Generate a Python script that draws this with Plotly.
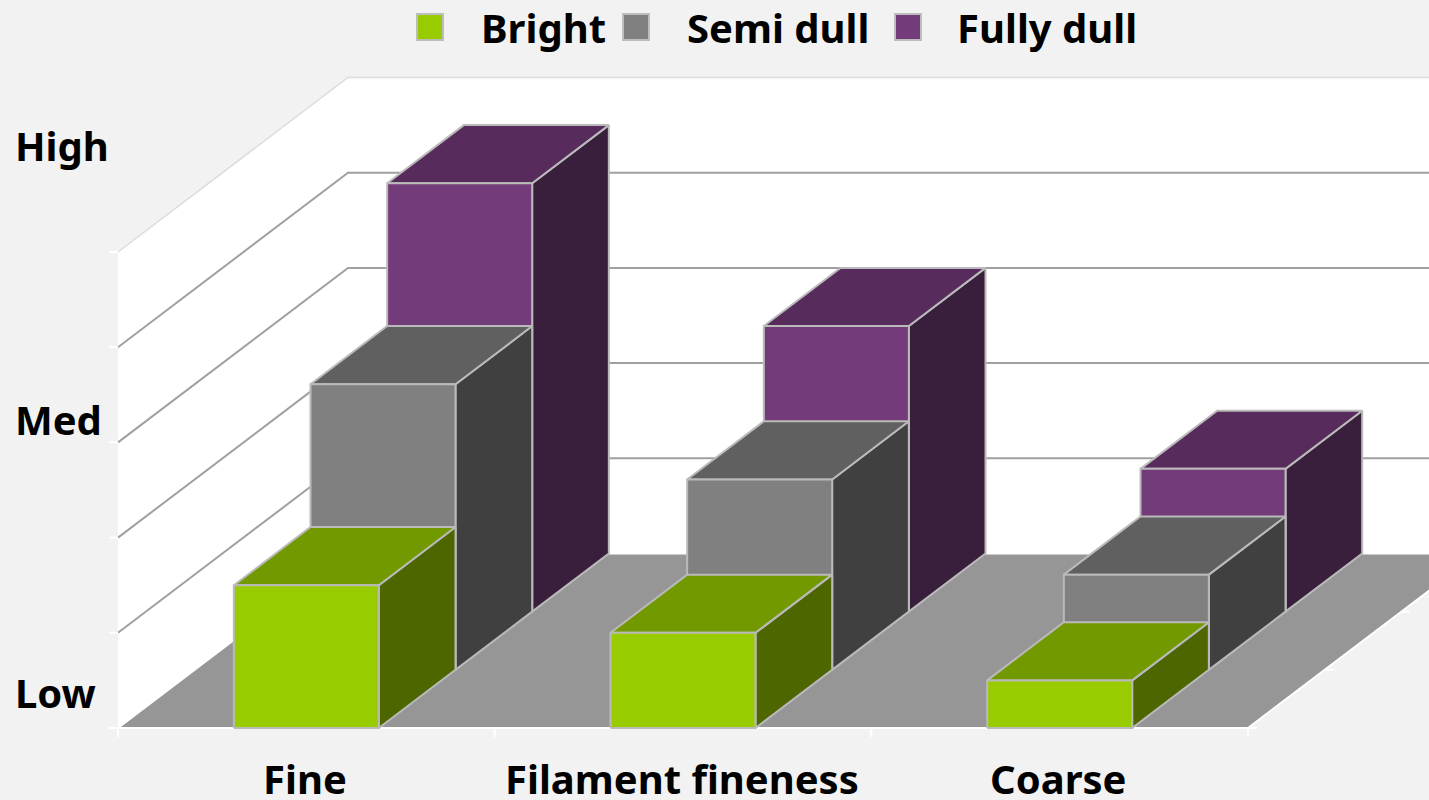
import plotly.graph_objects as go

# ---- data ----
categories = ["Fine", "Filament fineness", "Coarse"]
series_names = ["Bright", "Semi dull", "Fully dull"]
bright = [1.5, 1.0, 0.5]
semi_dull = [3.0, 2.0, 1.0]
fully_dull = [4.5, 3.0, 1.5]
y_labels = ["High", "Med", "Low"]
y_label_positions = [6.12, 3.24, 0.37]
grid_values = [0, 1, 2, 3, 4, 5]

# ---- styling / geometry ----
W, H = 1429, 800
LEFT, BOTTOM_PX = 118, 728
CAT_PX = 376.67
UNIT_PX = 95.2
DX = 230 / CAT_PX       # oblique depth offset, in category units
DY = 174.5 / UNIT_PX    # oblique depth offset, in value units
BAR_W = 145 / CAT_PX
N_CAT = len(categories)
BG = "#f2f2f2"
EDGE = "#bababa"
FONT = "Noto Sans"
FS = 40
face_colors = {
    "Bright": ("#99cc00", "#739900", "#4d6600"),
    "Semi dull": ("#808080", "#606060", "#404040"),
    "Fully dull": ("#743b7a", "#572b5c", "#3a1f3d"),
}
values = {"Bright": bright, "Semi dull": semi_dull, "Fully dull": fully_dull}


def ob(x, y, d):
    """Oblique projection of (category x, value y, depth d in 0..1)."""
    return x + DX * d, y + DY * d


def px_x(p):
    return (p - LEFT) / CAT_PX


def px_y(p):
    return (BOTTOM_PX - p) / UNIT_PX


fig = go.Figure()


def poly(points, fill, line=None, width=0):
    xs = [p[0] for p in points] + [points[0][0]]
    ys = [p[1] for p in points] + [points[0][1]]
    fig.add_trace(go.Scatter(
        x=xs, y=ys, mode="lines", fill="toself", fillcolor=fill,
        line=dict(color=line or fill, width=width), showlegend=False,
        hoverinfo="skip"))


def seg(points, color, width):
    fig.add_trace(go.Scatter(
        x=[p[0] for p in points], y=[p[1] for p in points], mode="lines",
        line=dict(color=color, width=width), showlegend=False,
        hoverinfo="skip"))


top = grid_values[-1]
right = N_CAT + 0.0
# walls
poly([ob(0, 0, 0), ob(0, top, 0), ob(0, top, 1), ob(0, 0, 1)], "#ffffff")
poly([ob(0, 0, 1), ob(0, top, 1), ob(right, top, 1), ob(right, 0, 1)], "#ffffff")
# floor
poly([ob(0, 0, 0), ob(right, 0, 0), ob(right, 0, 1), ob(0, 0, 1)], "#969696", "#ffffff", 2)
# top edge of walls
seg([ob(0, top, 0), ob(0, top, 1), ob(right, top, 1)], "#dcdcdc", 1.5)
# gridlines
for g in grid_values[1:-1]:
    seg([ob(0, g, 0), ob(0, g, 1), ob(right, g, 1)], "#a0a0a0", 2)
# white tick stubs: value axis, category axis, depth axis
TICK = 9
for g in grid_values:
    seg([(0, g), (-TICK / CAT_PX, g)], "#ffffff", 2)
for c in range(N_CAT + 1):
    seg([(c, 0), (c, -TICK / UNIT_PX)], "#ffffff", 2)
for k in (1, 2, 3):
    sx, sy = ob(right, 0, (k - 1) / 3)
    seg([(sx, sy), (sx + TICK / CAT_PX, sy)], "#ffffff", 2)

# bars, back to front
for c in range(N_CAT):
    for s in range(2, -1, -1):
        name = series_names[s]
        v = values[name][c]
        x0, x1 = c + 0.5 - BAR_W / 2, c + 0.5 + BAR_W / 2
        d0, d1 = s / 3, (s + 1) / 3
        front, topc, side = face_colors[name]
        poly([ob(x1, 0, d0), ob(x1, v, d0), ob(x1, v, d1), ob(x1, 0, d1)], side, EDGE, 2)
        poly([ob(x0, v, d0), ob(x1, v, d0), ob(x1, v, d1), ob(x0, v, d1)], topc, EDGE, 2)
        poly([ob(x0, 0, d0), ob(x1, 0, d0), ob(x1, v, d0), ob(x0, v, d0)], front, EDGE, 2)

# legend swatches and text
swatch_px = [430, 636, 908]
text_px = [479, 685, 955]
for name, sp, tp in zip(series_names, swatch_px, text_px):
    fig.add_trace(go.Scatter(
        x=[px_x(sp)], y=[px_y(27)], mode="markers", name=name,
        marker=dict(symbol="square", size=26, color=face_colors[name][0],
                    line=dict(color="#bdbdbd", width=2)),
        showlegend=False, hoverinfo="skip"))
    fig.add_annotation(x=px_x(tp), y=px_y(27), text=f"<b>{name}</b>", showarrow=False,
                       xanchor="left", yanchor="middle",
                       font=dict(family=FONT, size=FS, color="#000000"))

for lab, pos in zip(y_labels, y_label_positions):
    fig.add_annotation(x=px_x(13), y=pos, text=f"<b>{lab}</b>",
                       showarrow=False, xanchor="left", yanchor="middle",
                       font=dict(family=FONT, size=FS, color="#000000"))

for c, lab in enumerate(categories):
    fig.add_annotation(x=c + 0.5 - 1.5 / CAT_PX, y=px_y(778), text=f"<b>{lab}</b>",
                       showarrow=False, xanchor="center", yanchor="middle", height=42,
                       font=dict(family=FONT, size=FS, color="#000000"))

fig.update_layout(
    width=W, height=H, margin=dict(l=0, r=0, t=0, b=0, autoexpand=False),
    paper_bgcolor=BG, plot_bgcolor=BG, showlegend=False,
    xaxis=dict(range=[-LEFT / CAT_PX, (W - LEFT) / CAT_PX], visible=False),
    yaxis=dict(range=[(BOTTOM_PX - H) / UNIT_PX, BOTTOM_PX / UNIT_PX], visible=False),
)

fig.write_html("out.html", config=dict(displayModeBar=False),
               post_script="document.body.style.margin='0';document.body.style.background='#f2f2f2';")
